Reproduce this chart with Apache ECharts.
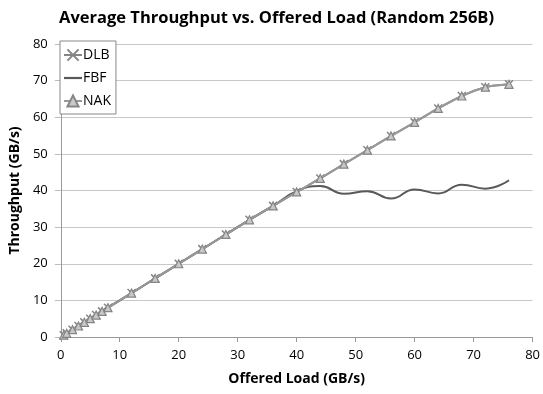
<!DOCTYPE html>
<html>
<head>
<meta charset="utf-8">
<script src="https://cdn.jsdelivr.net/npm/echarts@6/dist/echarts.min.js"></script>
<style>
  html, body { margin: 0; padding: 0; background: #fff; }
  #main { width: 543px; height: 394px; }
</style>
</head>
<body>
<div id="main"></div>
<script>
// offered load (GB/s)
var loadX = [0.5, 1, 2, 3, 4, 5, 6, 7, 8, 12, 16, 20, 24, 28, 32, 36, 40, 44, 48, 52, 56, 60, 64, 68, 72, 76];
// throughput (GB/s)
var dlbY = [0.5, 1, 2, 3, 4, 5, 6, 7, 8, 12, 16, 20, 24, 28, 32, 35.8, 39.6, 43.3, 47.2, 51, 54.9, 58.6, 62.4, 65.8, 68.2, 69];
var fbfY = [0.5, 1, 2, 3, 4, 5, 6, 7, 8, 12, 16, 20, 24, 28, 32, 35.8, 39.8, 41.2, 39.1, 39.8, 37.8, 40.3, 39.2, 41.6, 40.5, 42.8];
var nakY = [0.5, 1, 2, 3, 4, 5, 6, 7, 8, 12, 16, 20, 24, 28, 32, 35.8, 39.6, 43.3, 47.2, 51, 54.9, 58.6, 62.4, 65.8, 68.2, 69];

function pairs(xs, ys) {
    var out = [];
    for (var i = 0; i < xs.length; i++) out.push([xs[i], ys[i]]);
    return out;
}

var font = '"Open Sans", Lato, sans-serif';
var myChart = echarts.init(document.getElementById('main'));

var option = {
    backgroundColor: '#fff',
    animation: false,
    title: {
        text: 'Average Throughput vs. Offered Load (Random 256B)',
        left: 54,
        top: 5,
        textStyle: { fontFamily: font, fontSize: 16.5, fontWeight: 'bold', color: '#000' }
    },
    legend: {
        orient: 'vertical',
        left: 60,
        top: 41,
        itemGap: 9,
        itemWidth: 18,
        itemHeight: 14,
        padding: [7, 5, 6, 3],
        borderColor: '#888',
        borderWidth: 1,
        backgroundColor: '#fff',
        textStyle: { fontFamily: font, fontSize: 14, color: '#000', padding: [0, 0, 0, -4] },
        data: ['DLB', {
            name: 'FBF',
            icon: 'path://M0 0H18V2.2H0Z',
            itemStyle: { color: '#595959' }
        }, 'NAK']
    },
    grid: { left: 57, right: 8, top: 44, bottom: 57 },
    xAxis: {
        type: 'value',
        min: 0, max: 80, interval: 10,
        name: 'Offered Load (GB/s)',
        nameLocation: 'middle',
        nameGap: 35,
        nameTextStyle: { fontFamily: font, fontSize: 14, fontWeight: 'bold', color: '#000' },
        axisLine: { lineStyle: { color: '#999' } },
        axisTick: { show: true, length: 5, lineStyle: { color: '#999' } },
        axisLabel: { fontFamily: font, fontSize: 13, color: '#000', margin: 12 },
        splitLine: { show: false }
    },
    yAxis: {
        type: 'value',
        min: 0, max: 80, interval: 10,
        name: 'Throughput (GB/s)',
        nameLocation: 'middle',
        nameGap: 33,
        nameTextStyle: { fontFamily: font, fontSize: 14, fontWeight: 'bold', color: '#000' },
        axisLine: { show: true, lineStyle: { color: '#999' } },
        axisTick: { show: true, length: 6, lineStyle: { color: '#bbb' } },
        axisLabel: { fontFamily: font, fontSize: 13, color: '#000', margin: 13 },
        splitLine: { lineStyle: { color: '#c8c8c8', width: 1 } }
    },
    series: [{
        name: 'DLB',
        type: 'line',
        smooth: 0.3,
        data: pairs(loadX, dlbY),
        symbol: 'path://M0 0L10 10M10 0L0 10',
        symbolSize: 8,
        lineStyle: { color: '#858585', width: 2 },
        itemStyle: { color: '#858585', borderColor: '#858585', borderWidth: 1.5 },
        z: 2
    }, {
        name: 'FBF',
        type: 'line',
        smooth: 0.5,
        data: pairs(loadX, fbfY),
        symbol: 'none',
        lineStyle: { color: '#595959', width: 2 },
        itemStyle: { color: '#595959' },
        z: 3
    }, {
        name: 'NAK',
        type: 'line',
        smooth: 0.3,
        data: pairs(loadX, nakY),
        symbol: 'triangle',
        symbolSize: 8,
        lineStyle: { color: '#999', width: 2 },
        itemStyle: { color: '#c8c8c8', borderColor: '#858585', borderWidth: 1.2 },
        z: 4
    }]
};

myChart.setOption(option);
</script>
</body>
</html>
